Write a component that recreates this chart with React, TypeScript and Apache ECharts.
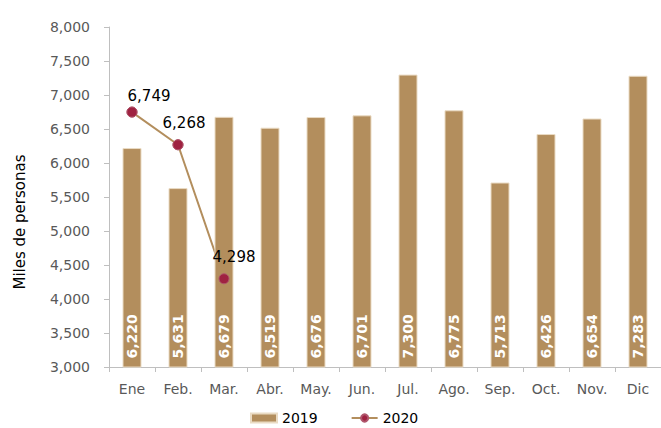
import React, { useEffect, useRef } from "react";
import * as echarts from "echarts";

const categories = ["Ene", "Feb.", "Mar.", "Abr.", "May.", "Jun.", "Jul.", "Ago.", "Sep.", "Oct.", "Nov.", "Dic"];
const values2019 = [6220, 5631, 6679, 6519, 6676, 6701, 7300, 6775, 5713, 6426, 6654, 7283];
const values2020 = [6749, 6268, 4298];
const labelOffsets2020 = [[17, 2], [6, -4], [10, -4]];
const yTicks = { min: 3000, max: 8000, interval: 500 };

const fmt = (v: number) => v.toLocaleString("en-US");
const FONT = "DejaVu Sans";

export default function App() {
  const ref = useRef<HTMLDivElement>(null);
  useEffect(() => {
    document.body.style.margin = "0";
    if (!ref.current) return;
    const chart = echarts.init(ref.current, undefined, { renderer: "svg" });
    chart.setOption({
      animation: false,
      textStyle: { fontFamily: FONT },
      grid: { left: 109, top: 27, width: 564, height: 340 },
      legend: {
        left: 250,
        top: 411,
        itemGap: 33,
        itemWidth: 26,
        itemHeight: 9,
        padding: 0,
        textStyle: { fontSize: 14, color: "#000", fontFamily: FONT },
        data: [{ name: "2019", icon: "rect" }, { name: "2020" }],
      },
      graphic: [
        {
          type: "text",
          x: 20,
          y: 222,
          rotation: Math.PI / 2,
          style: {
            text: "Miles de personas",
            font: `15px ${FONT}`,
            fill: "#000",
            align: "center",
            verticalAlign: "middle",
          },
        },
      ],
      xAxis: {
        type: "category",
        data: categories,
        boundaryGap: true,
        axisLine: { lineStyle: { color: "#bfbfbf" } },
        axisTick: { show: true, length: 5, lineStyle: { color: "#bfbfbf" } },
        axisLabel: { color: "#595959", fontSize: 14, margin: 15, interval: 0, fontFamily: FONT },
      },
      yAxis: {
        type: "value",
        min: yTicks.min,
        max: yTicks.max,
        interval: yTicks.interval,
        axisLine: { show: true, lineStyle: { color: "#bfbfbf" } },
        axisTick: { show: true, length: 5, lineStyle: { color: "#bfbfbf" } },
        splitLine: { show: false },
        axisLabel: { color: "#595959", fontSize: 14, margin: 19, formatter: (v: number) => fmt(v), fontFamily: FONT },
      },
      series: [
        {
          name: "2020",
          type: "line",
          data: values2020,
          symbol: "circle",
          symbolSize: 10,
          lineStyle: { color: "#B38E5D", width: 2 },
          itemStyle: { color: "#9F2241", borderColor: "#B0566C", borderWidth: 1 },
          z: 1,
        },
        {
          name: "2019",
          type: "bar",
          data: values2019,
          barWidth: 19,
          itemStyle: { color: "#B38E5D", borderColor: "#EADBC4", borderWidth: 1 },
          label: {
            show: true,
            position: "insideBottom",
            rotate: 90,
            align: "left",
            verticalAlign: "middle",
            distance: 9,
            color: "#fff",
            fontSize: 14,
            fontWeight: "bold",
            fontFamily: FONT,
            formatter: (p: any) => fmt(p.value),
          },
          z: 2,
        },
        {
          name: "2020 marcadores",
          type: "scatter",
          data: values2020.map((v, i) => ({
            value: v,
            label: { offset: labelOffsets2020[i] },
          })),
          symbol: "circle",
          symbolSize: 10,
          itemStyle: { color: "#9F2241", borderColor: "#B0566C", borderWidth: 1, opacity: 1 },
          label: {
            show: true,
            position: "top",
            color: "#000",
            fontSize: 15,
            fontFamily: FONT,
            formatter: (p: any) => fmt(p.value),
          },
          z: 3,
        },
      ],
    });
    return () => chart.dispose();
  }, []);
  return <div ref={ref} style={{ width: 661, height: 428 }} />;
}
